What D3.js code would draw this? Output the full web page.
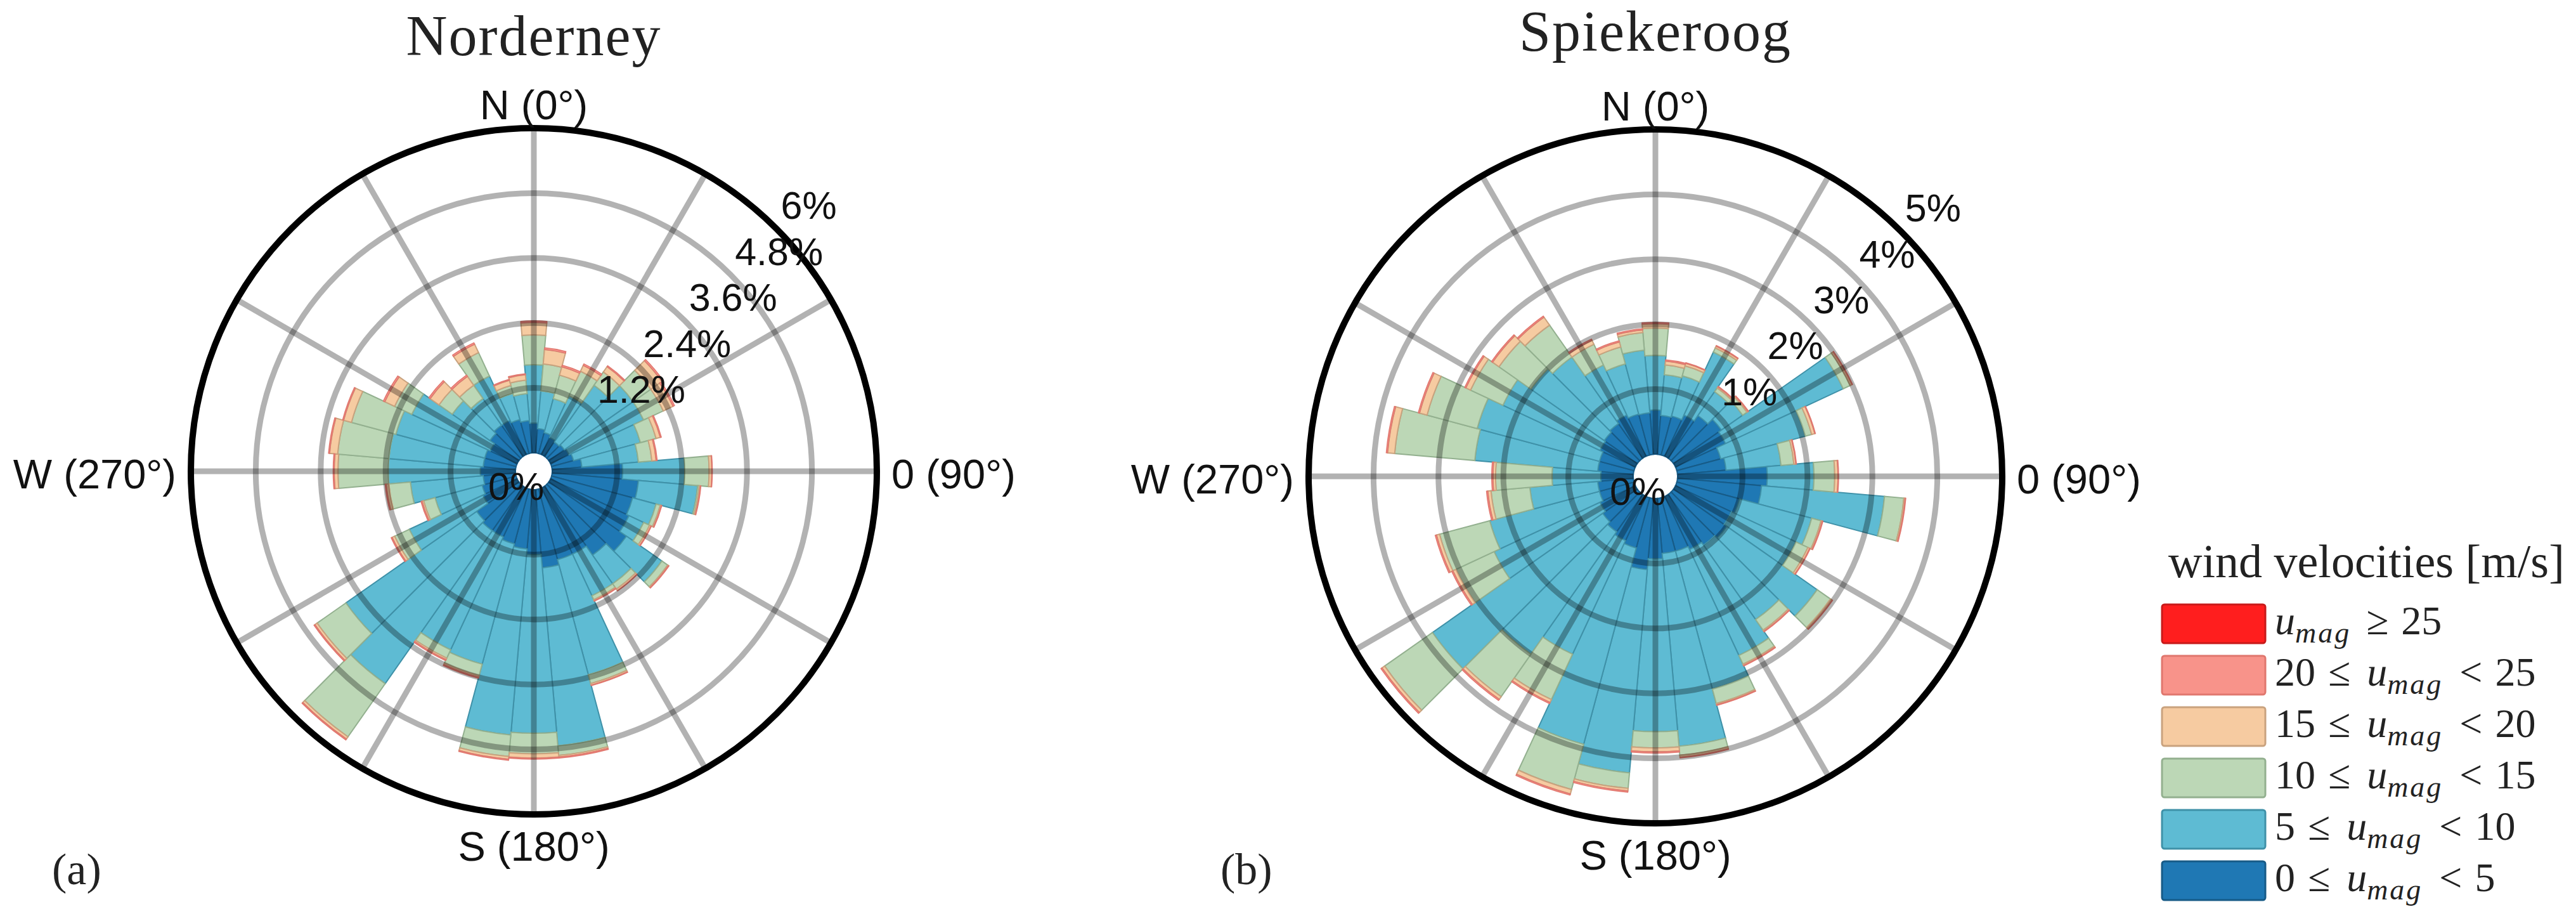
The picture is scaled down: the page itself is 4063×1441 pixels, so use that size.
<!DOCTYPE html>
<html>
<head>
<meta charset="utf-8">
<script src="https://cdn.jsdelivr.net/npm/d3@7/dist/d3.min.js"></script>
<style>
  html, body { margin: 0; padding: 0; background: #fff; }
  svg { display: block; }
  .dir-label { font-family: "Liberation Sans", Arial, sans-serif; font-size: 65px; fill: #111; }
  .tick-label { font-family: "Liberation Sans", Arial, sans-serif; font-size: 61px; fill: #111; }
  .serif { font-family: "Liberation Serif", "Times New Roman", serif; fill: #222; }
</style>
</head>
<body>
<svg id="chart" width="4063" height="1441"></svg>
<script>
// wind direction sectors (degrees from north, clockwise), 10 deg wide
const directions = [0, 10, 20, 30, 40, 50, 60, 70, 80, 90, 100, 110, 120, 130, 140, 150, 160, 170,
                    180, 190, 200, 210, 220, 230, 240, 250, 260, 270, 280, 290, 300, 310, 320, 330, 340, 350];
const spokeAngles = [0, 30, 60, 90, 120, 150, 180, 210, 240, 270, 300, 330];
const dirLabels = ["N (0°)", "0 (90°)", "S (180°)", "W (270°)"];

// speed classes, bottom of the stack first
const speedBins = [0, 5, 10, 15, 20, 25];
const classKeys = ["c0", "c1", "c2", "c3", "c4", "c5"];
const classColors = ["#1f78b4", "#5ebbd3", "#bcd7b6", "#f6cba1", "#f8938a", "#ff1e1e"];
const classEdges = ["#175b87", "#3f91a8", "#93b08f", "#c9a27e", "#e0776e", "#c81a1a"];

// Norderney: frequency [%] per direction for each speed class
const nordC0 = [0.55, 0.45, 0.40, 0.35, 0.32, 0.35, 0.38, 0.42, 0.55, 1.30, 1.60, 1.55, 1.60, 1.75, 1.55, 1.35, 1.35, 1.45,
                1.20, 1.10, 1.05, 1.00, 1.00, 0.95, 0.70, 0.65, 0.60, 0.65, 0.60, 0.60, 0.55, 0.65, 0.70, 0.70, 0.65, 0.60];
const nordC1 = [1.08, 0.70, 0.65, 0.85, 1.28, 1.55, 1.52, 1.28, 1.05, 1.15, 1.10, 0.45, 0.30, 0.80, 0.65, 0.85, 2.20, 3.30,
                3.30, 3.45, 2.30, 2.30, 3.45, 2.95, 1.50, 0.90, 1.35, 1.70, 1.75, 1.70, 1.60, 0.85, 0.60, 0.90, 0.50, 0.50];
const nordC2 = [0.55, 0.50, 0.45, 0.50, 0.30, 0.40, 0.40, 0.30, 0.25, 0.45, 0.03, 0.08, 0.12, 0.13, 0.12, 0.08, 0.17, 0.18,
                0.38, 0.40, 0.22, 0.17, 1.20, 0.65, 0.30, 0.22, 0.40, 0.93, 0.95, 0.85, 0.35, 0.30, 0.30, 0.48, 0.15, 0.25];
const nordC3 = [0.23, 0.27, 0.16, 0.12, 0.12, 0.25, 0.20, 0.08, 0.08, 0.05, 0.02, 0.02, 0.03, 0.02, 0.03, 0.02, 0.03, 0.03,
                0.08, 0.05, 0.03, 0.03, 0.05, 0.05, 0.05, 0.03, 0.05, 0.07, 0.15, 0.15, 0.20, 0.20, 0.20, 0.17, 0.10, 0.10];
const nordC4 = [0.03, 0.03, 0.03, 0.03, 0.02, 0.03, 0.03, 0.02, 0.02, 0.01, 0.01, 0.01, 0.01, 0.01, 0.01, 0.01, 0.01, 0.02,
                0.02, 0.02, 0.02, 0.02, 0.02, 0.02, 0.02, 0.02, 0.02, 0.02, 0.02, 0.02, 0.03, 0.03, 0.03, 0.03, 0.02, 0.02];
const nordC5 = [0.00, 0.00, 0.00, 0.00, 0.00, 0.00, 0.00, 0.00, 0.00, 0.00, 0.00, 0.00, 0.00, 0.00, 0.00, 0.00, 0.00, 0.00,
                0.00, 0.00, 0.00, 0.00, 0.00, 0.00, 0.00, 0.00, 0.00, 0.00, 0.00, 0.00, 0.00, 0.00, 0.00, 0.00, 0.00, 0.00];
const nordTicks = [0, 1.2, 2.4, 3.6, 4.8, 6];

// Spiekeroog
const spiekC0 = [0.68, 0.60, 0.62, 0.70, 0.80, 0.90, 0.85, 0.70, 0.75, 1.38, 1.30, 1.00, 0.95, 1.00, 0.95, 0.90, 0.85, 0.85,
                 0.93, 1.10, 0.80, 0.75, 0.70, 0.65, 0.60, 0.55, 0.55, 0.50, 0.55, 0.55, 0.60, 0.62, 0.65, 0.70, 0.65, 0.64];
const spiekC1 = [0.84, 0.63, 0.64, 1.07, 0.45, 0.40, 2.00, 1.35, 0.85, 0.72, 1.90, 1.15, 1.10, 1.70, 1.40, 1.80, 2.20, 2.98,
                 2.66, 3.14, 3.13, 1.93, 2.30, 3.20, 1.80, 1.75, 1.05, 0.75, 1.90, 1.95, 1.65, 1.38, 1.25, 0.85, 0.80, 0.97];
const spiekC2 = [0.42, 0.15, 0.16, 0.07, 0.07, 0.08, 0.12, 0.10, 0.20, 0.32, 0.30, 0.15, 0.20, 0.25, 0.20, 0.15, 0.23, 0.14,
                 0.25, 0.24, 0.72, 0.77, 0.80, 0.90, 0.65, 0.80, 0.60, 0.87, 1.24, 0.80, 0.55, 0.60, 0.60, 0.35, 0.27, 0.27];
const spiekC3 = [0.07, 0.06, 0.04, 0.03, 0.02, 0.02, 0.03, 0.05, 0.03, 0.05, 0.02, 0.02, 0.03, 0.03, 0.02, 0.02, 0.02, 0.03,
                 0.06, 0.04, 0.07, 0.05, 0.05, 0.05, 0.05, 0.05, 0.05, 0.04, 0.11, 0.12, 0.08, 0.12, 0.15, 0.07, 0.08, 0.04];
const spiekC4 = [0.02, 0.02, 0.01, 0.01, 0.01, 0.01, 0.01, 0.01, 0.01, 0.01, 0.01, 0.01, 0.01, 0.01, 0.01, 0.01, 0.01, 0.01,
                 0.02, 0.02, 0.02, 0.02, 0.02, 0.02, 0.02, 0.02, 0.02, 0.02, 0.02, 0.02, 0.02, 0.02, 0.02, 0.02, 0.02, 0.02];
const spiekC5 = [0.00, 0.00, 0.00, 0.00, 0.00, 0.00, 0.00, 0.00, 0.00, 0.00, 0.00, 0.00, 0.00, 0.00, 0.00, 0.00, 0.00, 0.00,
                 0.00, 0.00, 0.00, 0.00, 0.00, 0.00, 0.00, 0.00, 0.00, 0.00, 0.00, 0.00, 0.00, 0.00, 0.00, 0.00, 0.00, 0.00];
const spiekTicks = [0, 1, 2, 3, 4, 5];

const svg = d3.select("#chart");

function drawRose(o)
{
    const g = svg.append("g").attr("transform", `translate(${o.cx},${o.cy})`);
    const rMax = d3.max(o.ticks);
    const r = d3.scaleLinear().domain([0, rMax]).range([o.hole, o.radius]);
    const theta = d3.scaleLinear().domain([0, 360]).range([0, 2 * Math.PI]);
    const half = theta(5);

    //one row per direction, then stack the speed classes
    const rows = directions.map((dir, i) => {
        const row = { dir: dir };
        classKeys.forEach((k, j) => row[k] = o.series[j][i]);
        return row;
    });
    const stacked = d3.stack().keys(classKeys)(rows);

    const arc = d3.arc()
        .innerRadius(d => r(d[0]))
        .outerRadius(d => r(d[1]))
        .startAngle(d => theta(d.data.dir) - half)
        .endAngle(d => theta(d.data.dir) + half);

    g.selectAll("g.layer")
        .data(stacked)
        .join("g")
        .attr("class", "layer")
        .attr("fill", (d, i) => classColors[i])
        .attr("stroke", (d, i) => classEdges[i])
        .attr("stroke-width", (d, i) => i > 3 ? 1.5 : 2)
        .selectAll("path")
        .data(d => d.filter(s => s[1] > s[0]))
        .join("path")
        .attr("d", arc);

    //grid on top of the bars, semi transparent like matplotlib
    g.selectAll("circle.ring")
        .data(o.ticks.slice(1, -1))
        .join("circle")
        .attr("class", "ring")
        .attr("r", d => r(d))
        .attr("fill", "none")
        .attr("stroke", "#000")
        .attr("stroke-opacity", 0.3)
        .attr("stroke-width", 9);

    g.selectAll("line.spoke")
        .data(spokeAngles)
        .join("line")
        .attr("class", "spoke")
        .attr("x1", d => r(0) * Math.sin(theta(d)))
        .attr("y1", d => -r(0) * Math.cos(theta(d)))
        .attr("x2", d => r(rMax) * Math.sin(theta(d)))
        .attr("y2", d => -r(rMax) * Math.cos(theta(d)))
        .attr("stroke", "#000")
        .attr("stroke-opacity", 0.3)
        .attr("stroke-width", 9);

    g.append("circle")
        .attr("r", r(rMax))
        .attr("fill", "none")
        .attr("stroke", "#000")
        .attr("stroke-width", 10);

    //percent labels along the 45 deg line
    const s45 = Math.SQRT1_2;
    g.selectAll("text.tick-label")
        .data(o.ticks)
        .join("text")
        .attr("class", "tick-label")
        .attr("x", d => d === 0 ? -72 : r(d) * s45 + 7)
        .attr("y", d => d === 0 ? 45 : -r(d) * s45 - 15)
        .text(d => d + "%");

    const R = r(rMax);
    const dirPos = [
        { x: 0, y: -(R + 14), anchor: "middle" },
        { x: R + 23, y: 27, anchor: "start" },
        { x: 0, y: R + 73, anchor: "middle" },
        { x: -(R + 23), y: 27, anchor: "end" }
    ];
    g.selectAll("text.dir-label")
        .data(dirLabels)
        .join("text")
        .attr("class", "dir-label")
        .attr("x", (d, i) => dirPos[i].x)
        .attr("y", (d, i) => dirPos[i].y)
        .attr("text-anchor", (d, i) => dirPos[i].anchor)
        .text(d => d);

    svg.append("text")
        .attr("class", "serif")
        .attr("x", o.cx)
        .attr("y", o.titleY)
        .attr("text-anchor", "middle")
        .attr("font-size", 90)
        .attr("letter-spacing", 2)
        .text(o.title);

    svg.append("text")
        .attr("class", "serif")
        .attr("x", o.tagX)
        .attr("y", 1394)
        .attr("font-size", 70)
        .text(o.tag);
}

drawRose({
    cx: 842, cy: 743, hole: 29, radius: 541, ticks: nordTicks,
    series: [nordC0, nordC1, nordC2, nordC3, nordC4, nordC5],
    title: "Norderney", titleY: 87, tag: "(a)", tagX: 82
});

drawRose({
    cx: 2611, cy: 751, hole: 35, radius: 547, ticks: spiekTicks,
    series: [spiekC0, spiekC1, spiekC2, spiekC3, spiekC4, spiekC5],
    title: "Spiekeroog", titleY: 80, tag: "(b)", tagX: 1925
});

// legend, highest class on top
const legend = svg.append("g").attr("transform", "translate(3410,953)");
legend.append("text")
    .attr("class", "serif")
    .attr("x", 10)
    .attr("y", -43)
    .attr("font-size", 74)
    .text("wind velocities [m/s]");

const legendRows = d3.range(classKeys.length).reverse();
const rowH = 81;
legendRows.forEach((ci, k) => {
    legend.append("rect")
        .attr("x", 0)
        .attr("y", k * rowH)
        .attr("width", 163)
        .attr("height", 61)
        .attr("rx", 4)
        .attr("fill", classColors[ci])
        .attr("stroke", classEdges[ci])
        .attr("stroke-width", 3);

    const t = legend.append("text")
        .attr("class", "serif")
        .attr("x", 178)
        .attr("y", k * rowH + 47)
        .attr("font-size", 64)
        .attr("fill", "#222");

    const lo = speedBins[ci];
    const hi = speedBins[ci + 1];
    const umag = (gap) => {
        t.append("tspan").attr("font-style", "italic").attr("dx", gap).text("u");
        t.append("tspan").attr("font-style", "italic").attr("font-size", 46)
            .attr("letter-spacing", 3).attr("dy", 13).text("mag");
    };
    if (hi === undefined)
    {
        umag(0);
        t.append("tspan").attr("dx", 24).attr("dy", -13).text("≥");
        t.append("tspan").attr("dx", 20).text(lo);
    }
    else
    {
        t.append("tspan").text(lo);
        t.append("tspan").attr("dx", 20).text("≤");
        umag(26);
        t.append("tspan").attr("dx", 26).attr("dy", -13).text("<");
        t.append("tspan").attr("dx", 20).text(hi);
    }
});
</script>
</body>
</html>
